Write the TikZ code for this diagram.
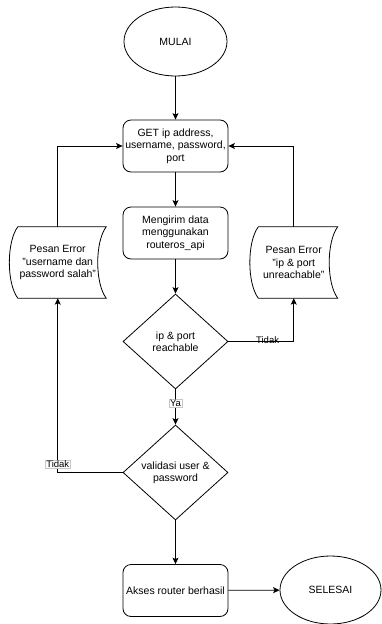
\documentclass[tikz,border=0pt]{standalone}
\usepackage{fontspec}
\setmainfont{Liberation Sans}
\usetikzlibrary{shapes.geometric,arrows.meta}

\begin{document}
\begin{tikzpicture}[
  x=1pt,
  y=-1pt,
  every node/.style={font=\fontsize{10.5}{12.3}\selectfont, align=center, inner sep=0pt},
  line/.style={draw=black, line width=0.8pt},
  arrow/.style={line, -{Stealth[length=6.5pt, width=6pt, inset=1.5pt]}},
  terminal/.style={ellipse, line, minimum width=103pt, minimum height=69pt},
  proc/.style={rectangle, line, rounded corners=8pt, minimum width=105pt, minimum height=52pt},
  decision/.style={diamond, line, aspect=1.1, minimum width=105pt, minimum height=95pt},
  store/.style={rectangle, minimum height=71pt},
  tag/.style={font=\fontsize{9.5}{11}\selectfont},
  tagbox/.style={tag, fill=white, draw=gray!45, line width=0.4pt, inner sep=0.8pt}
]
  \useasboundingbox (0,0) rectangle (382,624);

  % main column
  \node[terminal] (mulai) at (175.5,41.5) {MULAI};
  \node[proc] (get) at (175.5,146) {GET ip address,\\username, password,\\port};
  \node[proc] (kirim) at (175.5,233) {Mengirim data\\menggunakan\\routeros\_api};
  \node[decision] (cekip) at (175.5,341.5) {ip \& port\\reachable};
  \node[decision] (validasi) at (175.5,472.5) {validasi user \&\\password};
  \node[proc] (akses) at (175.5,590.5) {Akses router berhasil};
  \node[terminal, minimum width=101pt, minimum height=68pt] (selesai) at (330.5,590) {SELESAI};

  % error messages (stored data)
  \node[store, minimum width=96.5pt] (errUser) at (57.75,262.5) {Pesan Error\\"username dan\\password salah"};
  \node[store, minimum width=87.5pt] (errIp) at (293.75,262.5) {Pesan Error\\"ip \& port\\unreachable"};
  \foreach \n in {errUser,errIp} {
    \draw[line] ([xshift=8.5pt]\n.north west) -- (\n.north east)
      .. controls ([xshift=-11.3pt,yshift=-15pt]\n.north east) and ([xshift=-11.3pt,yshift=15pt]\n.south east) .. (\n.south east)
      -- ([xshift=8.5pt]\n.south west)
      .. controls ([xshift=-2.8pt,yshift=15pt]\n.south west) and ([xshift=-2.8pt,yshift=-15pt]\n.north west) .. cycle;
  }

  % connectors
  \draw[arrow] (mulai) -- (get);
  \draw[arrow] (get) -- (kirim);
  \draw[arrow] (kirim) -- (cekip);
  \draw[arrow] (cekip) -- node[tagbox, pos=0.39] (ya) {Ya} (validasi);
  \draw[arrow] (validasi) -- (akses);
  \draw[arrow] (akses) -- (selesai);

  \draw[arrow] (cekip.east) -| node[tag, pos=0.3, yshift=1.5pt] (tidakIp) {Tidak} (errIp.south);
  \draw[arrow] (validasi.west) -| node[tagbox, pos=0.524] (tidakUser) {Tidak} (errUser.south);
  \draw[arrow] (errUser.north) |- (get.west);
  \draw[arrow] (errIp.north) |- (get.east);
\end{tikzpicture}
\end{document}
